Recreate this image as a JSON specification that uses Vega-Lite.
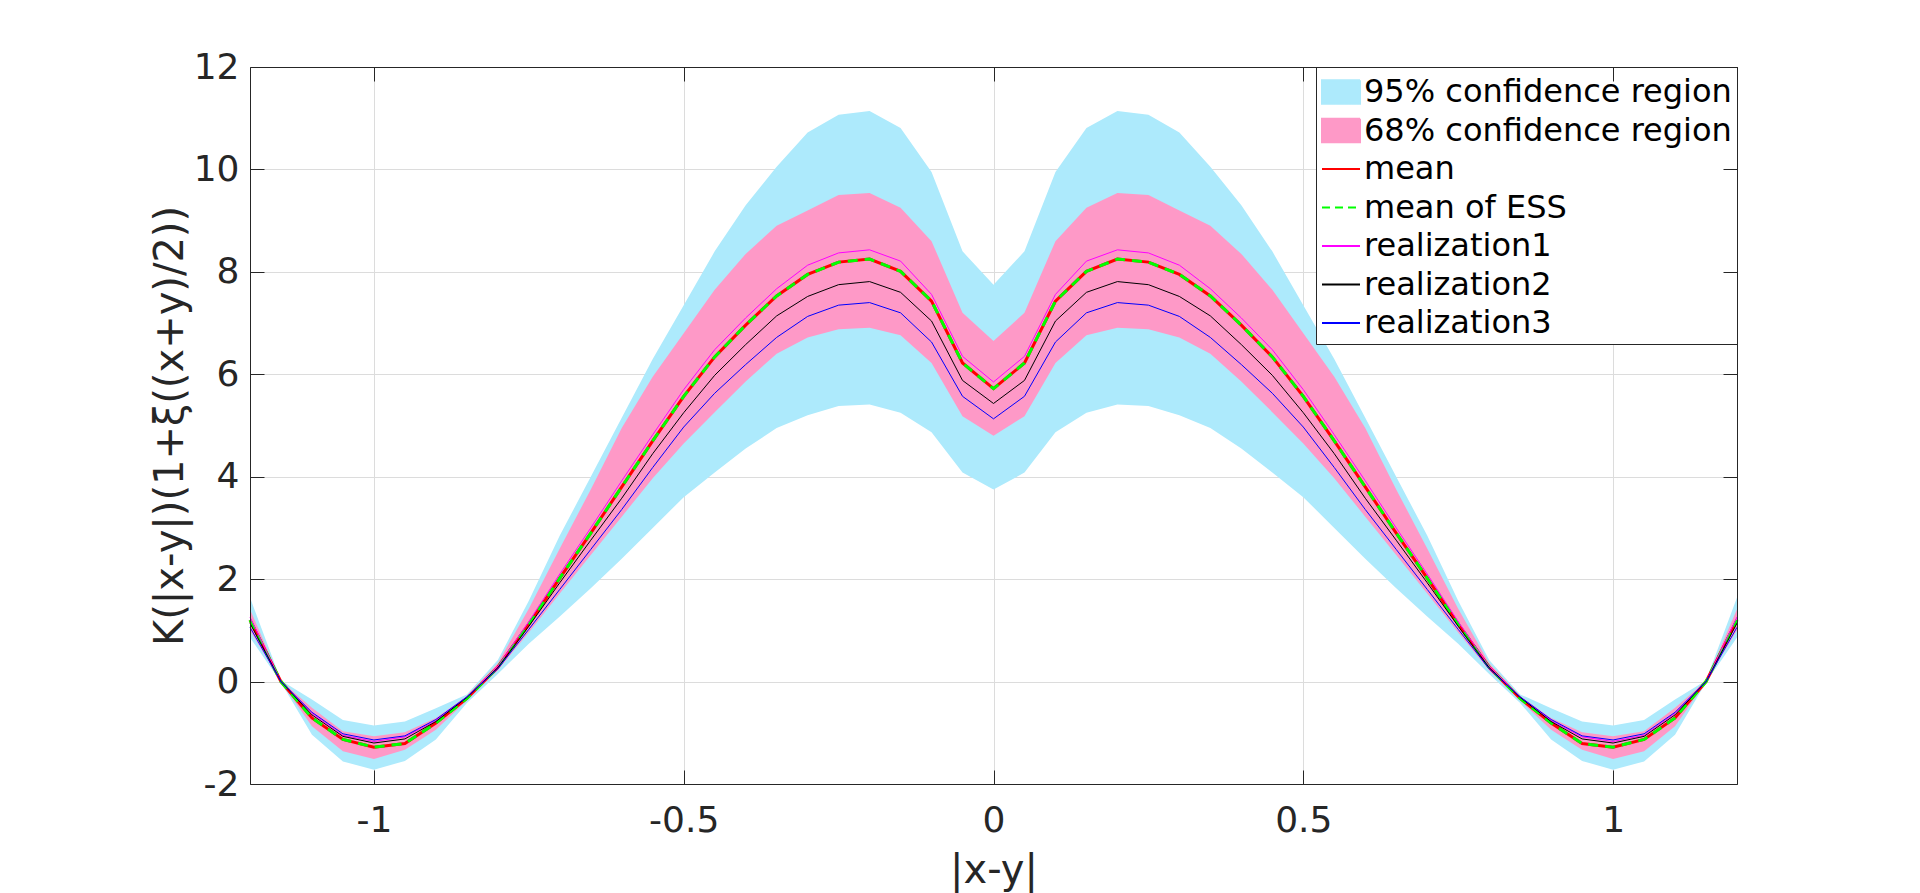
{
  "$schema": "https://vega.github.io/schema/vega-lite/v6.json",
  "width": 1487,
  "height": 717,
  "autosize": "none",
  "padding": {"left": 250, "top": 67, "right": 183, "bottom": 109},
  "background": "white",
  "config": {
    "font": "DejaVu Sans",
    "view": {"stroke": null}
  },
  "data": {
    "values": [
      {"x": -1.2, "hi95": 1.64, "hi68": 1.41, "r1": 1.26, "mean": 1.2, "ess": 1.2, "r2": 1.14, "r3": 1.06, "lo68": 1.0, "lo95": 0.86},
      {"x": -1.15, "hi95": 0.02, "hi68": 0.01, "r1": 0, "mean": 0, "ess": 0, "r2": 0, "r3": 0, "lo68": -0.01, "lo95": -0.02},
      {"x": -1.1, "hi95": -0.35, "hi68": -0.51, "r1": -0.62, "mean": -0.71, "ess": -0.71, "r2": -0.65, "r3": -0.6, "lo68": -0.87, "lo95": -1.04},
      {"x": -1.05, "hi95": -0.75, "hi68": -0.97, "r1": -1.05, "mean": -1.13, "ess": -1.13, "r2": -1.07, "r3": -1.02, "lo68": -1.36, "lo95": -1.56},
      {"x": -1.0, "hi95": -0.86, "hi68": -1.07, "r1": -1.17, "mean": -1.28, "ess": -1.28, "r2": -1.2, "r3": -1.14, "lo68": -1.51, "lo95": -1.72},
      {"x": -0.95, "hi95": -0.78, "hi68": -0.99, "r1": -1.08, "mean": -1.21, "ess": -1.21, "r2": -1.12, "r3": -1.06, "lo68": -1.33, "lo95": -1.55},
      {"x": -0.9, "hi95": -0.52, "hi68": -0.71, "r1": -0.76, "mean": -0.81, "ess": -0.81, "r2": -0.78, "r3": -0.74, "lo68": -0.94, "lo95": -1.13},
      {"x": -0.85, "hi95": -0.25, "hi68": -0.28, "r1": -0.3, "mean": -0.33, "ess": -0.33, "r2": -0.31, "r3": -0.3, "lo68": -0.37, "lo95": -0.42},
      {"x": -0.8, "hi95": 0.42, "hi68": 0.36, "r1": 0.3, "mean": 0.28, "ess": 0.28, "r2": 0.27, "r3": 0.25, "lo68": 0.22, "lo95": 0.15},
      {"x": -0.75, "hi95": 1.58, "hi68": 1.42, "r1": 1.17, "mean": 1.12, "ess": 1.12, "r2": 1.08, "r3": 1.02, "lo68": 0.96, "lo95": 0.74},
      {"x": -0.7, "hi95": 2.85, "hi68": 2.6, "r1": 2.1, "mean": 2.02, "ess": 2.02, "r2": 1.93, "r3": 1.8, "lo68": 1.72, "lo95": 1.27},
      {"x": -0.65, "hi95": 4.0, "hi68": 3.75, "r1": 3.0, "mean": 2.9, "ess": 2.9, "r2": 2.76, "r3": 2.58, "lo68": 2.47, "lo95": 1.82},
      {"x": -0.6, "hi95": 5.15, "hi68": 4.95, "r1": 3.92, "mean": 3.8, "ess": 3.8, "r2": 3.58, "r3": 3.36, "lo68": 3.22, "lo95": 2.4},
      {"x": -0.55, "hi95": 6.3, "hi68": 5.95, "r1": 4.82, "mean": 4.7, "ess": 4.7, "r2": 4.45, "r3": 4.18, "lo68": 3.97, "lo95": 3.0},
      {"x": -0.5, "hi95": 7.35, "hi68": 6.8, "r1": 5.7, "mean": 5.57, "ess": 5.57, "r2": 5.25, "r3": 4.97, "lo68": 4.65, "lo95": 3.6},
      {"x": -0.45, "hi95": 8.4, "hi68": 7.65, "r1": 6.48, "mean": 6.34, "ess": 6.34, "r2": 5.98, "r3": 5.63, "lo68": 5.26, "lo95": 4.08},
      {"x": -0.4, "hi95": 9.3, "hi68": 8.35, "r1": 7.1, "mean": 6.96, "ess": 6.96, "r2": 6.58, "r3": 6.19, "lo68": 5.86, "lo95": 4.55},
      {"x": -0.35, "hi95": 10.05, "hi68": 8.9, "r1": 7.67, "mean": 7.53, "ess": 7.53, "r2": 7.14, "r3": 6.72, "lo68": 6.4, "lo95": 4.95},
      {"x": -0.3, "hi95": 10.72, "hi68": 9.2, "r1": 8.13, "mean": 7.95, "ess": 7.95, "r2": 7.52, "r3": 7.13, "lo68": 6.72, "lo95": 5.2},
      {"x": -0.25, "hi95": 11.07, "hi68": 9.5, "r1": 8.37, "mean": 8.19, "ess": 8.19, "r2": 7.75, "r3": 7.35, "lo68": 6.88, "lo95": 5.38},
      {"x": -0.2, "hi95": 11.14, "hi68": 9.54, "r1": 8.43, "mean": 8.25, "ess": 8.25, "r2": 7.81, "r3": 7.4, "lo68": 6.91, "lo95": 5.41},
      {"x": -0.15, "hi95": 10.81, "hi68": 9.25, "r1": 8.21, "mean": 8.01, "ess": 8.01, "r2": 7.6, "r3": 7.2, "lo68": 6.76, "lo95": 5.25},
      {"x": -0.1, "hi95": 9.95, "hi68": 8.6, "r1": 7.56, "mean": 7.43, "ess": 7.43, "r2": 7.04, "r3": 6.63, "lo68": 6.22, "lo95": 4.87},
      {"x": -0.05, "hi95": 8.4, "hi68": 7.2, "r1": 6.35, "mean": 6.22, "ess": 6.22, "r2": 5.88, "r3": 5.57, "lo68": 5.18, "lo95": 4.08},
      {"x": 0, "hi95": 7.75, "hi68": 6.65, "r1": 5.85, "mean": 5.72, "ess": 5.72, "r2": 5.43, "r3": 5.13, "lo68": 4.8, "lo95": 3.75},
      {"x": 0.05, "hi95": 8.4, "hi68": 7.2, "r1": 6.35, "mean": 6.22, "ess": 6.22, "r2": 5.88, "r3": 5.57, "lo68": 5.18, "lo95": 4.08},
      {"x": 0.1, "hi95": 9.95, "hi68": 8.6, "r1": 7.56, "mean": 7.43, "ess": 7.43, "r2": 7.04, "r3": 6.63, "lo68": 6.22, "lo95": 4.87},
      {"x": 0.15, "hi95": 10.81, "hi68": 9.25, "r1": 8.21, "mean": 8.01, "ess": 8.01, "r2": 7.6, "r3": 7.2, "lo68": 6.76, "lo95": 5.25},
      {"x": 0.2, "hi95": 11.14, "hi68": 9.54, "r1": 8.43, "mean": 8.25, "ess": 8.25, "r2": 7.81, "r3": 7.4, "lo68": 6.91, "lo95": 5.41},
      {"x": 0.25, "hi95": 11.07, "hi68": 9.5, "r1": 8.37, "mean": 8.19, "ess": 8.19, "r2": 7.75, "r3": 7.35, "lo68": 6.88, "lo95": 5.38},
      {"x": 0.3, "hi95": 10.72, "hi68": 9.2, "r1": 8.13, "mean": 7.95, "ess": 7.95, "r2": 7.52, "r3": 7.13, "lo68": 6.72, "lo95": 5.2},
      {"x": 0.35, "hi95": 10.05, "hi68": 8.9, "r1": 7.67, "mean": 7.53, "ess": 7.53, "r2": 7.14, "r3": 6.72, "lo68": 6.4, "lo95": 4.95},
      {"x": 0.4, "hi95": 9.3, "hi68": 8.35, "r1": 7.1, "mean": 6.96, "ess": 6.96, "r2": 6.58, "r3": 6.19, "lo68": 5.86, "lo95": 4.55},
      {"x": 0.45, "hi95": 8.4, "hi68": 7.65, "r1": 6.48, "mean": 6.34, "ess": 6.34, "r2": 5.98, "r3": 5.63, "lo68": 5.26, "lo95": 4.08},
      {"x": 0.5, "hi95": 7.35, "hi68": 6.8, "r1": 5.7, "mean": 5.57, "ess": 5.57, "r2": 5.25, "r3": 4.97, "lo68": 4.65, "lo95": 3.6},
      {"x": 0.55, "hi95": 6.3, "hi68": 5.95, "r1": 4.82, "mean": 4.7, "ess": 4.7, "r2": 4.45, "r3": 4.18, "lo68": 3.97, "lo95": 3.0},
      {"x": 0.6, "hi95": 5.15, "hi68": 4.95, "r1": 3.92, "mean": 3.8, "ess": 3.8, "r2": 3.58, "r3": 3.36, "lo68": 3.22, "lo95": 2.4},
      {"x": 0.65, "hi95": 4.0, "hi68": 3.75, "r1": 3.0, "mean": 2.9, "ess": 2.9, "r2": 2.76, "r3": 2.58, "lo68": 2.47, "lo95": 1.82},
      {"x": 0.7, "hi95": 2.85, "hi68": 2.6, "r1": 2.1, "mean": 2.02, "ess": 2.02, "r2": 1.93, "r3": 1.8, "lo68": 1.72, "lo95": 1.27},
      {"x": 0.75, "hi95": 1.58, "hi68": 1.42, "r1": 1.17, "mean": 1.12, "ess": 1.12, "r2": 1.08, "r3": 1.02, "lo68": 0.96, "lo95": 0.74},
      {"x": 0.8, "hi95": 0.42, "hi68": 0.36, "r1": 0.3, "mean": 0.28, "ess": 0.28, "r2": 0.27, "r3": 0.25, "lo68": 0.22, "lo95": 0.15},
      {"x": 0.85, "hi95": -0.25, "hi68": -0.28, "r1": -0.3, "mean": -0.33, "ess": -0.33, "r2": -0.31, "r3": -0.3, "lo68": -0.37, "lo95": -0.42},
      {"x": 0.9, "hi95": -0.52, "hi68": -0.71, "r1": -0.76, "mean": -0.81, "ess": -0.81, "r2": -0.78, "r3": -0.74, "lo68": -0.94, "lo95": -1.13},
      {"x": 0.95, "hi95": -0.78, "hi68": -0.99, "r1": -1.08, "mean": -1.21, "ess": -1.21, "r2": -1.12, "r3": -1.06, "lo68": -1.33, "lo95": -1.55},
      {"x": 1.0, "hi95": -0.86, "hi68": -1.07, "r1": -1.17, "mean": -1.28, "ess": -1.28, "r2": -1.2, "r3": -1.14, "lo68": -1.51, "lo95": -1.72},
      {"x": 1.05, "hi95": -0.75, "hi68": -0.97, "r1": -1.05, "mean": -1.13, "ess": -1.13, "r2": -1.07, "r3": -1.02, "lo68": -1.36, "lo95": -1.56},
      {"x": 1.1, "hi95": -0.35, "hi68": -0.51, "r1": -0.62, "mean": -0.71, "ess": -0.71, "r2": -0.65, "r3": -0.6, "lo68": -0.87, "lo95": -1.04},
      {"x": 1.15, "hi95": 0.02, "hi68": 0.01, "r1": 0, "mean": 0, "ess": 0, "r2": 0, "r3": 0, "lo68": -0.01, "lo95": -0.02},
      {"x": 1.2, "hi95": 1.64, "hi68": 1.41, "r1": 1.26, "mean": 1.2, "ess": 1.2, "r2": 1.14, "r3": 1.06, "lo68": 1.0, "lo95": 0.86}
    ]
  },
  "layer": [
    {
      "encoding": {
        "x": {
          "field": "x",
          "type": "quantitative",
          "scale": {"domain": [-1.2, 1.2], "nice": false, "zero": false},
          "axis": {
            "orient": "bottom",
            "values": [-1, -0.5, 0, 0.5, 1],
            "labelExpr": "'' + datum.value",
            "title": "|x-y|",
            "grid": true,
            "gridColor": "#dcdcdc",
            "domain": false,
            "ticks": false,
            "tickSize": 0,
            "labelPadding": 19,
            "labelFontSize": 36,
            "labelColor": "#262626",
            "labelFlush": false,
            "titleFontSize": 40,
            "titleFontWeight": "normal",
            "titleColor": "#262626",
            "titlePadding": 12
          }
        }
      },
      "layer": [
        {
          "mark": {"type": "area", "interpolate": "linear", "opacity": 1},
          "encoding": {
            "y": {
              "field": "lo95",
              "type": "quantitative",
              "scale": {"domain": [-2, 12], "nice": false, "zero": false},
              "axis": {
                "orient": "left",
                "values": [-2, 0, 2, 4, 6, 8, 10, 12],
                "labelExpr": "'' + datum.value",
                "title": "K(|x-y|)(1+ξ((x+y)/2))",
                "grid": true,
                "gridColor": "#dcdcdc",
                "domain": false,
                "ticks": false,
                "tickSize": 0,
                "labelPadding": 11,
                "labelFontSize": 36,
                "labelColor": "#262626",
                "labelFlush": false,
                "titleFontSize": 40,
                "titleFontWeight": "normal",
                "titleColor": "#262626",
                "titlePadding": 3
              }
            },
            "y2": {"field": "hi95"},
            "color": {
              "datum": "95% confidence region",
              "type": "nominal",
              "scale": {
                "domain": ["95% confidence region", "68% confidence region", "mean", "mean of ESS", "realization1", "realization2", "realization3"],
                "range": ["#adeafc", "#fe99c7", "#ff0000", "#00ff00", "#ff00ff", "#000000", "#0000ff"]
              },
              "legend": {
                "title": null,
                "orient": "top-right",
                "offset": 0,
                "padding": 5,
                "strokeColor": "#262626",
                "fillColor": "white",
                "labelFontSize": 32,
                "labelColor": "black",
                "labelLimit": 600,
                "labelOffset": 3,
                "symbolSize": 1444,
                "symbolType": "stroke",
                "symbolStrokeWidth": 2,
                "rowPadding": 2.5,
                "encoding": {
                  "symbols": {
                    "shape": {"condition": {"test": "indexof(datum.value, 'region') >= 0", "value": "M-1,-0.62H1V0.62H-1Z"}, "value": "M-1,0H1"},
                    "fill": {"condition": [
                      {"test": "datum.value === '95% confidence region'", "value": "#adeafc"},
                      {"test": "datum.value === '68% confidence region'", "value": "#fe99c7"}
                    ], "value": "transparent"},
                    "stroke": {"condition": [
                      {"test": "datum.value === 'mean'", "value": "#ff0000"},
                      {"test": "datum.value === 'mean of ESS'", "value": "#00ff00"},
                      {"test": "datum.value === 'realization1'", "value": "#ff00ff"},
                      {"test": "datum.value === 'realization2'", "value": "#000000"},
                      {"test": "datum.value === 'realization3'", "value": "#0000ff"}
                    ], "value": "transparent"},
                    "strokeDash": {"condition": {"test": "datum.value === 'mean of ESS'", "value": [8, 5]}, "value": [1, 0]}
                  }
                }
              }
            }
          }
        },
        {
          "mark": {"type": "area", "interpolate": "linear", "opacity": 1},
          "encoding": {
            "y": {"field": "lo68", "type": "quantitative"},
            "y2": {"field": "hi68"},
            "color": {"datum": "68% confidence region", "type": "nominal"}
          }
        },
        {
          "mark": {"type": "line", "strokeWidth": 3},
          "encoding": {
            "y": {"field": "mean", "type": "quantitative"},
            "color": {"datum": "mean", "type": "nominal"}
          }
        },
        {
          "mark": {"type": "line", "strokeWidth": 3, "strokeDash": [10, 7]},
          "encoding": {
            "y": {"field": "ess", "type": "quantitative"},
            "color": {"datum": "mean of ESS", "type": "nominal"}
          }
        },
        {
          "mark": {"type": "line", "strokeWidth": 1},
          "encoding": {
            "y": {"field": "r1", "type": "quantitative"},
            "color": {"datum": "realization1", "type": "nominal"}
          }
        },
        {
          "mark": {"type": "line", "strokeWidth": 1},
          "encoding": {
            "y": {"field": "r2", "type": "quantitative"},
            "color": {"datum": "realization2", "type": "nominal"}
          }
        },
        {
          "mark": {"type": "line", "strokeWidth": 1},
          "encoding": {
            "y": {"field": "r3", "type": "quantitative"},
            "color": {"datum": "realization3", "type": "nominal"}
          }
        }
      ]
    },
    {
      "mark": {"type": "line", "opacity": 0},
      "encoding": {
        "x": {
          "field": "x",
          "type": "quantitative",
          "axis": {"orient": "bottom", "values": [-1, -0.5, 0, 0.5, 1], "labels": false, "title": null, "grid": false, "domain": true, "domainColor": "#262626", "ticks": true, "tickColor": "#262626", "tickSize": -14, "zindex": 1}
        },
        "y": {
          "field": "mean",
          "type": "quantitative",
          "axis": {"orient": "left", "values": [-2, 0, 2, 4, 6, 8, 10, 12], "labels": false, "title": null, "grid": false, "domain": true, "domainColor": "#262626", "ticks": true, "tickColor": "#262626", "tickSize": -14, "zindex": 1}
        }
      }
    },
    {
      "mark": {"type": "line", "opacity": 0},
      "encoding": {
        "x": {
          "field": "x",
          "type": "quantitative",
          "axis": {"orient": "top", "values": [-1, -0.5, 0, 0.5, 1], "labels": false, "title": null, "grid": false, "domain": true, "domainColor": "#262626", "ticks": true, "tickColor": "#262626", "tickSize": -14, "zindex": 1}
        },
        "y": {
          "field": "mean",
          "type": "quantitative",
          "axis": {"orient": "right", "values": [-2, 0, 2, 4, 6, 8, 10, 12], "labels": false, "title": null, "grid": false, "domain": true, "domainColor": "#262626", "ticks": true, "tickColor": "#262626", "tickSize": -14, "zindex": 1}
        }
      }
    }
  ],
  "resolve": {"axis": {"x": "independent", "y": "independent"}}
}
